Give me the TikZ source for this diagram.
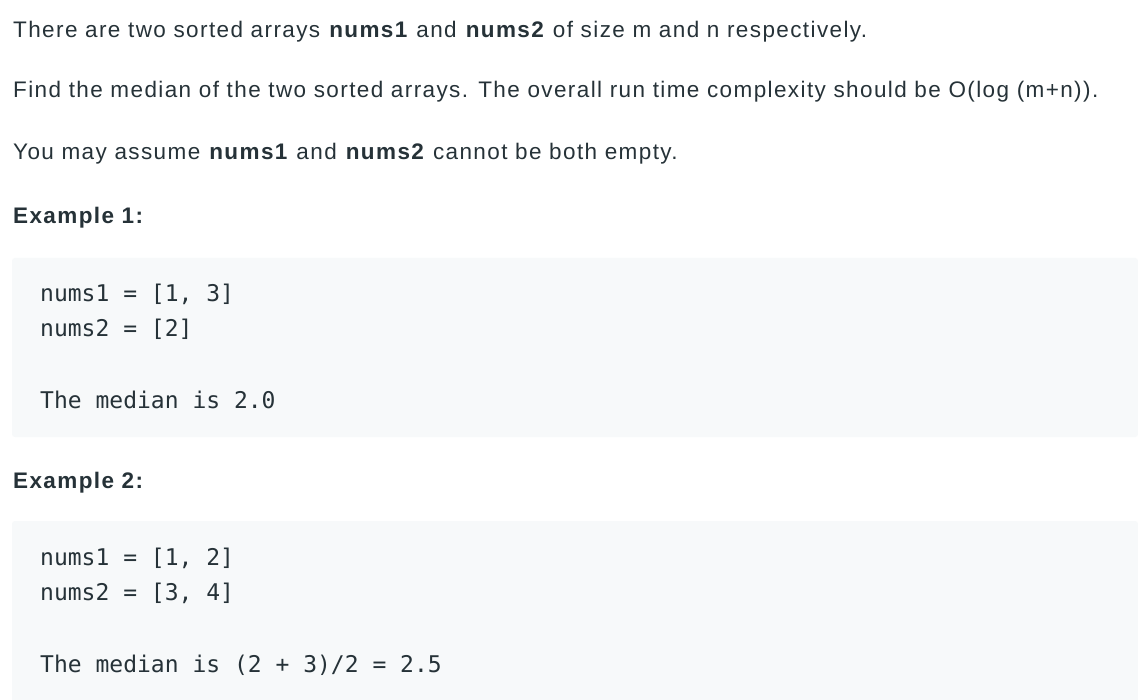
\documentclass[tikz,border=0pt]{standalone}
\usepackage{fontspec}
\setmainfont[LetterSpace=6.2]{Liberation Sans}
\setmonofont{DejaVu Sans Mono}
\usepackage{xcolor}
\usetikzlibrary{positioning}
\definecolor{testo}{HTML}{263238}
\definecolor{sfondo}{HTML}{F7F9FA}

\begin{document}
\begin{tikzpicture}[
				x=1pt, y=-1pt,
				riga/.style={anchor=base west, inner sep=0pt, text=testo, font=\fontsize{22.5}{27}\selectfont},
				titolo/.style={riga, font=\fontsize{22.5}{27}\selectfont\bfseries},
				codice/.style={anchor=base west, inner sep=0pt, text=testo, font=\fontsize{23}{28}\selectfont\ttfamily},
				blocco/.style={fill=sfondo, rounded corners=3pt}
				]
				\useasboundingbox[fill=white] (0,0) rectangle (1138,700);
				
				% Testo del problema
				\node[riga] (intro) at (13,38) {There are two sorted arrays \textbf{nums1} and \textbf{nums2} of size m and n respectively.};
				\node[riga] (mediana) at (13,98) {Find the median of the two sorted arrays. The overall run time complexity should be O(log (m+n)).};
				\node[riga] (ipotesi) at (13,160) {You may assume \textbf{nums1} and \textbf{nums2} cannot be both empty.};
				
				% Esempio 1
				\node[titolo] (es1) at (13,224) {Example 1:};
				\fill[blocco] (12,258) rectangle (1138,437);
				\node[codice] (es1a) at (40,302) {nums1 = [1, 3]};
				\node[codice] (es1b) at (40,337) {nums2 = [2]};
				\node[codice] (es1c) at (40,409) {The median is 2.0};
				
				% Esempio 2
				\node[titolo] (es2) at (13,488) {Example 2:};
				\fill[blocco] (12,521) rectangle (1138,706);
				\node[codice] (es2a) at (40,565) {nums1 = [1, 2]};
				\node[codice] (es2b) at (40,600) {nums2 = [3, 4]};
				\node[codice] (es2c) at (40,672) {The median is (2 + 3)/2 = 2.5};
			\end{tikzpicture}
\end{document}
